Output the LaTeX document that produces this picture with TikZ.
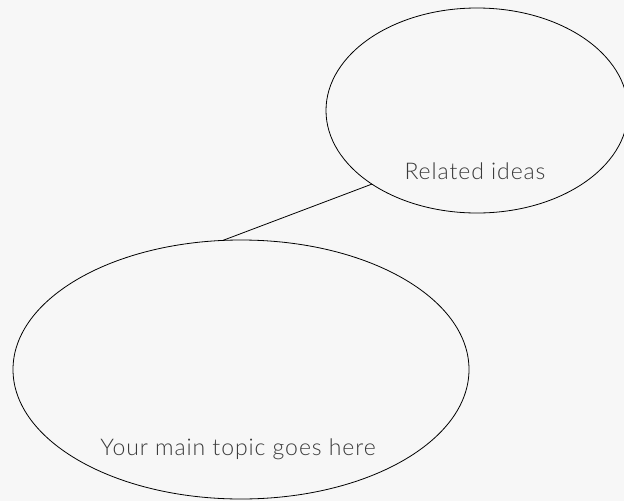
\documentclass[tikz,border=0pt]{standalone}
\usepackage{fontspec}
\setmainfont{Lato Light}[LetterSpace=4]
\usetikzlibrary{shapes.geometric}
\definecolor{bgcol}{HTML}{F7F7F7}
\definecolor{txtcol}{HTML}{3A3A3A}
\tikzset{
  bubble/.style={ellipse, draw=black, line width=0.8pt, inner sep=0pt, outer sep=0pt},
  lbl/.style={text=txtcol, font=\fontsize{23}{26}\selectfont, inner sep=0pt, anchor=base},
  link/.style={draw=black, line width=0.8pt}
}
\begin{document}
\begin{tikzpicture}[x=1pt,y=-1pt]
\fill[bgcol] (0,0) rectangle (624,501);
\useasboundingbox (0,0) rectangle (624,501);
\clip (0,0) rectangle (624,501);
\node[bubble, minimum width=302pt, minimum height=205pt] (rel) at (477,110.5) {};
\node[bubble, minimum width=456pt, minimum height=259pt] (main) at (241,369.5) {};
\node[lbl] (reltxt) at (475,179) {Related ideas};
\node[lbl] (maintxt) at (238,455) {Your main topic goes here};
\draw[link] (main.98.3) -- (rel.215);
\end{tikzpicture}
\end{document}
